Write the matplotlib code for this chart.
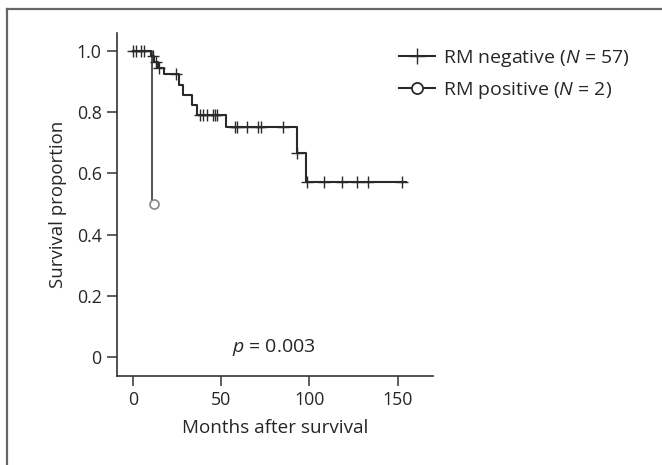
import numpy as np
import matplotlib
matplotlib.use("Agg")
import matplotlib.pyplot as plt
from matplotlib.lines import Line2D

plt.rcParams['font.family'] = ['Open Sans', 'DejaVu Sans']
plt.rcParams['mathtext.fontset'] = 'custom'
plt.rcParams['mathtext.rm'] = 'Open Sans'
plt.rcParams['mathtext.it'] = 'Open Sans:italic'

# RM negative (N = 57): Kaplan-Meier steps (time of drop, survival after drop)
neg_times = [0, 10.3, 12.2, 14.2, 17.5, 26.3, 28.5, 33.8, 36.5, 52.7, 93.0, 98.4]
neg_surv = [1.0, 0.982, 0.964, 0.945, 0.924, 0.888, 0.857, 0.824, 0.790, 0.750, 0.667, 0.570]
neg_end = 155
neg_censored = [0.4, 1.9, 4.5, 6.3, 11.3, 13.0, 15.0, 24.7, 38.0, 39.9, 42.1, 45.5,
                46.5, 47.8, 57.8, 58.8, 65.0, 71.0, 72.4, 84.9, 93.2, 98.8, 108.3,
                118.3, 126.8, 133.3, 152.3]

# RM positive (N = 2)
pos_times = [0, 11.0]
pos_surv = [1.0, 0.5]
pos_end = 12.0
pos_censored = [12.0]

xticks = [0, 50, 100, 150]
yticks = [0, 0.2, 0.4, 0.6, 0.8, 1.0]
ytick_labels = ['0', '0.2', '0.4', '0.6', '0.8', '1.0']


def step_value(times, surv, t):
    i = np.searchsorted(times, t, side='right') - 1
    return np.array(surv)[i]


fig = plt.figure(figsize=(6.62, 4.65), dpi=100)
ax = fig.add_axes([0.1767, 0.1914, 0.4773, 0.7376])

line_col = '#2a2a2a'
txt_col = '#262626'

# negative curve
ax.step(neg_times + [neg_end], neg_surv + [neg_surv[-1]], where='post',
        color=line_col, lw=1.5, zorder=3)
ax.plot(neg_censored, step_value(neg_times, neg_surv, neg_censored), ls='none',
        marker='+', ms=9, mew=1.0, color=line_col, zorder=4)

# positive curve
ax.step(pos_times + [pos_end], pos_surv + [pos_surv[-1]], where='post',
        color='#444444', lw=1.3, zorder=2)
ax.plot(pos_censored, step_value(pos_times, pos_surv, pos_censored), ls='none',
        marker='o', ms=6.5, mfc='white', mec='#888888', mew=1.2, zorder=5)

ax.set_xlim(-8.9, 170)
ax.set_ylim(-0.062, 1.058)
ax.set_xticks(xticks)
ax.set_yticks(yticks)
ax.set_yticklabels(ytick_labels)
for s in ['top', 'right']:
    ax.spines[s].set_visible(False)
for s in ['left', 'bottom']:
    ax.spines[s].set_color('#333333')
    ax.spines[s].set_linewidth(1.2)
ax.tick_params(length=7, width=1.1, color='#333333', labelsize=12.8,
               labelcolor=txt_col, pad=4)
ax.set_xlabel('Months after survival', fontsize=13.6, color=txt_col, labelpad=7)
ax.set_ylabel('Survival proportion', fontsize=13.4, color=txt_col, labelpad=7)

ax.text(80, 0.03, '$p$ = 0.003', fontsize=14, color=txt_col,
        ha='center', va='center')

handles = [
    Line2D([], [], color=line_col, lw=1.5, marker='+', ms=12, mew=1.0),
    Line2D([], [], color=line_col, lw=1.5, marker='o', ms=8, mfc='white',
           mec=line_col, mew=1.3),
]
fig.legend(handles, ['RM negative ($N$ = 57)', 'RM positive ($N$ = 2)'],
           loc='upper left', bbox_to_anchor=(399 / 662, 1 - 48 / 465),
           frameon=False, fontsize=14, handlelength=1.85, handletextpad=0.4,
           borderpad=0, borderaxespad=0, labelspacing=0.55, labelcolor=txt_col)

# partial frame around the figure (top and left edges)
fig.add_artist(Line2D([7 / 662, 1], [1 - 9 / 465, 1 - 9 / 465],
                      transform=fig.transFigure, color='#666666', lw=1.6))
fig.add_artist(Line2D([7 / 662, 7 / 662], [0, 1 - 9 / 465],
                      transform=fig.transFigure, color='#666666', lw=1.6))

fig.savefig('out.png', dpi=100)
